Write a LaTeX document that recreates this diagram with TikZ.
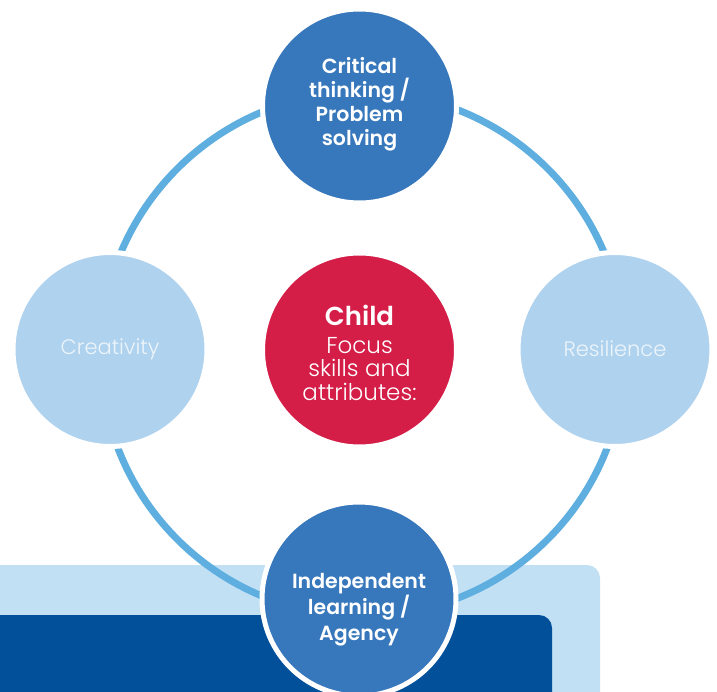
\documentclass[tikz,border=0pt]{standalone}
\usepackage{fontspec}
\setmainfont{Poppins}
\newfontfamily\semib{Poppins SemiBold}
\newfontfamily\lightf{Poppins Light}
\definecolor{ringc}{HTML}{5EAEE0}
\definecolor{darkc}{HTML}{3777BC}
\definecolor{lightc}{HTML}{AFD2EE}
\definecolor{redc}{HTML}{D41E48}
\definecolor{rectlight}{HTML}{C1E0F4}
\definecolor{rectdark}{HTML}{024F9A}
\definecolor{faint}{HTML}{EDF5FB}
\begin{document}
\begin{tikzpicture}[x=1pt,y=-1pt,
  bubble/.style={circle, minimum size=194pt, inner sep=0pt, draw=white, line width=5pt},
  darkbub/.style={bubble, fill=darkc},
  lightbub/.style={bubble, fill=lightc},
  redbub/.style={bubble, fill=redc},
  boldtxt/.style={align=center, text=white, font=\semib\fontsize{20.5}{24}\selectfont},
  lighttxt/.style={align=center, text=faint, font=\lightf\fontsize{21}{24}\selectfont},
  ringline/.style={draw=ringc, line width=7pt}]
\clip (0,0) rectangle (717,692);
\fill[white] (0,0) rectangle (717,692);
% background panels
\fill[rectlight, rounded corners=13pt] (-30,565) rectangle (600,760);
\fill[rectdark, rounded corners=13pt] (-30,615) rectangle (552,760);
% ring
\coordinate (rc) at (362.5,354);
\draw[ringline] (rc) circle (262pt);
% bubbles
\node[darkbub] (top) at (359.5,106) {};
\node[darkbub] (bot) at (359,599) {};
\node[lightbub] (left) at (110,349.5) {};
\node[lightbub] (right) at (615,349.5) {};
\node[redbub] (mid) at (359.5,350) {};
% texts
\node[boldtxt] (toptxt) at (359.5,104) {Critical\\thinking /\\Problem\\solving};
\node[boldtxt, font=\semib\fontsize{20.5}{26}\selectfont] (bottxt) at (359,610) {Independent\\learning /\\Agency};
\node[lighttxt] (lefttxt) at (110,349) {Creativity};
\node[lighttxt] (righttxt) at (615,349) {Resilience};
\node[align=center, text=white, font=\lightf\fontsize{23}{23.5}\selectfont] (midtxt) at (359.5,353)
  {{\semib\fontsize{26}{30}\selectfont Child}\\[4pt]Focus\\skills and\\attributes:};
\end{tikzpicture}
\end{document}
